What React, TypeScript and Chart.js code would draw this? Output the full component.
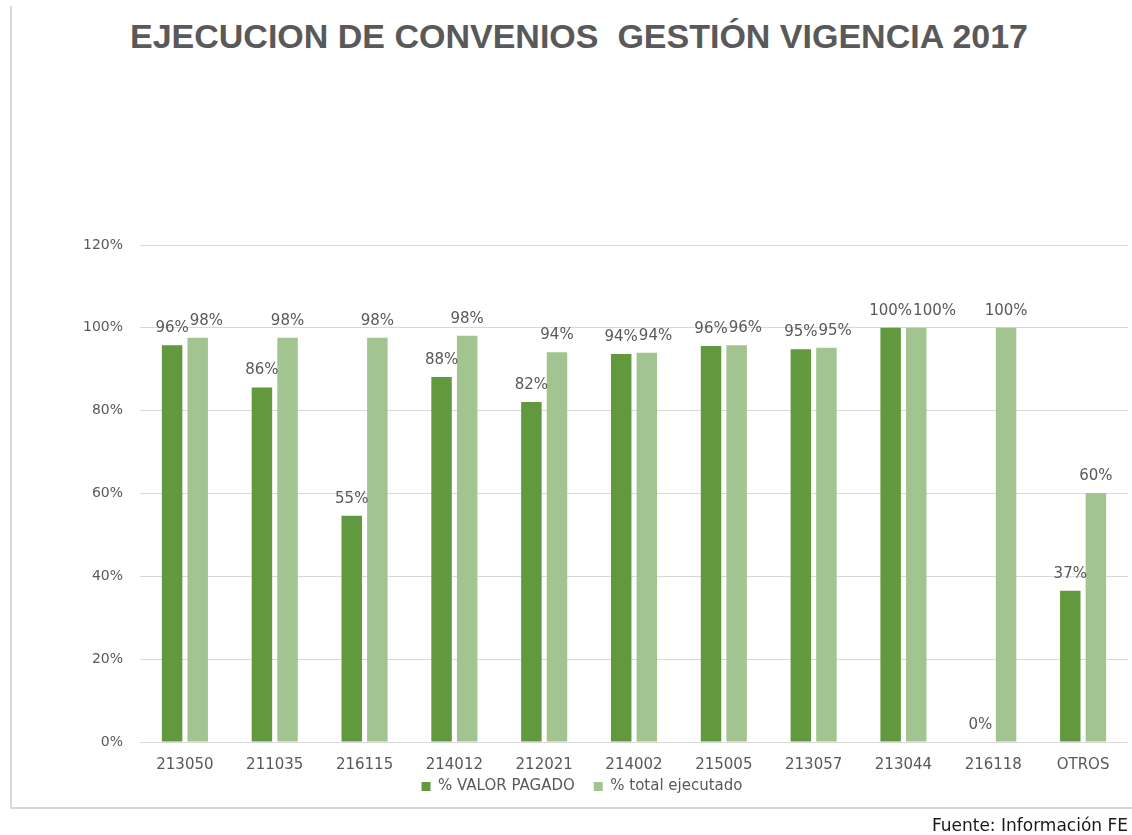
import React, { useEffect, useRef } from "react";
import { Chart, registerables } from "chart.js";

Chart.register(...registerables);

const categories = ["213050", "211035", "216115", "214012", "212021", "214002", "215005", "213057", "213044", "216118", "OTROS"];
const valorPagado = [95.8, 85.6, 54.6, 88.1, 82.1, 93.7, 95.6, 94.8, 100, 0, 36.5];
const totalEjecutado = [97.6, 97.6, 97.6, 98.1, 94.1, 94.0, 95.8, 95.2, 100, 100, 60.1];
const seriesNames = ["% VALOR PAGADO", "% total ejecutado"];
const yTickMax = 120;
const yTickStep = 20;
const titleText = "EJECUCION DE CONVENIOS  GESTIÓN VIGENCIA 2017";
const sourceText = "Fuente: Información FE";

const DARK = "#62993e";
const LIGHT = "#a1c490";
const TEXT = "#595959";

const labelPlugin = {
  id: "barLabels",
  afterDatasetsDraw(chart: any) {
    const ctx = chart.ctx;
    ctx.save();
    ctx.font = "15px 'DejaVu Sans'";
    ctx.fillStyle = TEXT;
    ctx.textAlign = "center";
    ctx.textBaseline = "middle";
    const placed: { l: number; r: number; y: number }[][] = [];
    chart.data.datasets.forEach((ds: any, i: number) => {
      const meta = chart.getDatasetMeta(i);
      placed[i] = [];
      meta.data.forEach((bar: any, j: number) => {
        const text = Math.round(ds.data[j]) + "%";
        const w = ctx.measureText(text).width;
        let cx = bar.x;
        const cy = bar.y - 17;
        if (i > 0) {
          const prev = placed[i - 1][j];
          if (prev && Math.abs(prev.y - cy) < 14 && cx - w / 2 < prev.r + 1) {
            cx = prev.r + 1 + w / 2;
          }
        }
        placed[i][j] = { l: cx - w / 2, r: cx + w / 2, y: cy };
        ctx.fillText(text, cx, cy);
      });
    });
    ctx.restore();
  },
};

export default function App() {
  const ref = useRef<HTMLCanvasElement>(null);
  useEffect(() => {
    if (!ref.current) return;
    const chart = new Chart(ref.current, {
      type: "bar",
      data: {
        labels: categories,
        datasets: [
          { label: seriesNames[0], data: valorPagado, backgroundColor: DARK, categoryPercentage: 0.57, barPercentage: 0.8 },
          { label: seriesNames[1], data: totalEjecutado, backgroundColor: LIGHT, categoryPercentage: 0.57, barPercentage: 0.8 },
        ],
      },
      options: {
        responsive: false,
        animation: false,
        devicePixelRatio: 1,
        layout: { padding: { left: 36, right: 4, top: 245, bottom: 31 } },
        plugins: {
          title: { display: false },
          tooltip: { enabled: false },
          legend: {
            position: "bottom",
            labels: {
              boxWidth: 9,
              boxHeight: 9,
              padding: 19,
              color: TEXT,
              font: { family: "DejaVu Sans", size: 15 },
            },
          },
        },
        scales: {
          x: {
            grid: { display: false },
            border: { display: false },
            ticks: { color: TEXT, font: { family: "DejaVu Sans", size: 15 }, mirror: true, padding: -32 },
            afterFit: (s: any) => { s.height = 18; },
          },
          y: {
            min: 0,
            max: yTickMax,
            border: { display: false },
            grid: { color: "#d9d9d9", drawTicks: false },
            ticks: {
              stepSize: yTickStep,
              color: TEXT,
              padding: 17,
              font: { family: "DejaVu Sans", size: 14 },
              callback: (v: any) => v + "%",
            },
            afterFit: (s: any) => { s.width = 104; },
          },
        },
      },
      plugins: [labelPlugin],
    });
    return () => chart.destroy();
  }, []);

  return (
    <div style={{ position: "fixed", left: 0, top: 0, width: 1132, height: 835, background: "#fff", overflow: "hidden" }}>
      <div style={{ position: "absolute", left: 10, top: 6, width: 1140, height: 801, borderLeft: "2px solid #d9d9d9", borderBottom: "2px solid #d9d9d9" }} />
      <div style={{ position: "absolute", left: 0, top: 19, width: 1158, textAlign: "center", whiteSpace: "pre", font: "bold 34px 'Liberation Sans'", lineHeight: "34px", color: TEXT }}>
        {titleText}
      </div>
      <canvas ref={ref} width={1132} height={835} style={{ position: "absolute", left: 0, top: 0 }} />
      <div style={{ position: "absolute", right: 4, top: 817, font: "17px 'DejaVu Sans'", lineHeight: "17px", color: "#1a1a1a", whiteSpace: "pre" }}>
        {sourceText}
      </div>
    </div>
  );
}
